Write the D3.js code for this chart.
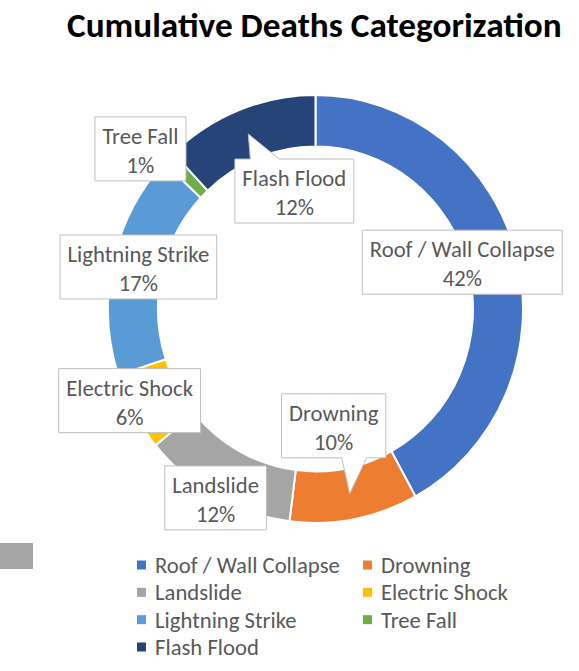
<!DOCTYPE html>
<html>
<head>
<meta charset="utf-8">
<script src="https://cdn.jsdelivr.net/npm/d3@7"></script>
<style>
  body { margin: 0; background: #fff; }
  svg { display: block; }
</style>
</head>
<body>
<div id="chart"></div>
<script>
// data
const categories = ["Roof / Wall Collapse", "Drowning", "Landslide", "Electric Shock", "Lightning Strike", "Tree Fall", "Flash Flood"];
const shares = [42, 10, 12, 6, 17, 1, 12];
const colors = ["#4472C4", "#ED7D31", "#A5A5A5", "#FFC000", "#5B9BD5", "#70AD47", "#264478"];

// nudges for label boxes, relative to the slice centroid (callouts keep the tip on the centroid)
const labelNudge = [
    { dx: -30, dy: 0 },
    { dx: -16, dy: -68, callout: "bottom", ptr: [-8, 17] },
    { dx: -12, dy: 24 },
    { dx: -26, dy: 1 },
    { dx: 1, dy: -1 },
    { dx: -46, dy: -27 },
    { dx: 46, dy: 57, callout: "top", ptr: [2, 31] },
];

const width = 579, height = 671;
const center = { x: 315.5, y: 309 };
const outerR = 207.5, innerR = 157.5, yStretch = 1.031;
const font = "Carlito, Lato, 'Open Sans', sans-serif";
const textColor = "#595959";

const svg = d3.select("#chart").append("svg")
    .attr("width", width)
    .attr("height", height);

// scale a text's font-size so that it spans the target width
function fitFont(textSel, target, base) {
    textSel.style("font-size", base + "px");
    const w = textSel.node().getComputedTextLength();
    const size = base * target / w;
    textSel.style("font-size", size + "px");
    return size;
}

// title
const title = svg.append("text")
    .attr("x", 67)
    .attr("y", 37)
    .style("font-family", font)
    .style("font-weight", "bold")
    .style("fill", "#000")
    .text("Cumulative Deaths Categorization");
fitFont(title, 495, 30);

// measure label font size against the longest label
const probe = svg.append("text").style("font-family", font).text(categories[0]);
const labelSize = fitFont(probe, 185, 20);
probe.remove();

// donut
const pie = d3.pie().sort(null).value((d) => d)(shares);
const arc = d3.arc().innerRadius(innerR).outerRadius(outerR);

svg.append("g")
    .attr("transform", `translate(${center.x},${center.y}) scale(1,${yStretch})`)
    .selectAll("path")
    .data(pie)
    .join("path")
    .attr("d", arc)
    .attr("fill", (d, i) => colors[i])
    .attr("stroke", "#fff")
    .attr("stroke-width", 2)
    .attr("vector-effect", "non-scaling-stroke");

// data labels
const labels = svg.append("g")
    .style("font-family", font)
    .style("font-size", labelSize + "px")
    .style("fill", textColor);

pie.forEach((d, i) => {
    const c = arc.centroid(d);
    const tip = { x: center.x + c[0], y: center.y + c[1] * yStretch };
    const nudge = labelNudge[i];
    const bx = tip.x + nudge.dx, by = tip.y + nudge.dy;
    const g = labels.append("g");

    const t1 = g.append("text")
        .attr("x", bx).attr("y", by - 13)
        .attr("text-anchor", "middle")
        .attr("dominant-baseline", "central")
        .text(categories[i]);
    const t2 = g.append("text")
        .attr("x", bx).attr("y", by + 16)
        .attr("text-anchor", "middle")
        .attr("dominant-baseline", "central")
        .text(d3.format(".0%")(shares[i] / d3.sum(shares)));

    const w = Math.max(t1.node().getComputedTextLength(), t2.node().getComputedTextLength()) + 15;
    const h = 64;
    const x0 = bx - w / 2, x1 = bx + w / 2, y0 = by - h / 2, y1 = by + h / 2;

    let p;
    if (nudge.callout === "top") {
        const a = tip.x + nudge.ptr[0], b = tip.x + nudge.ptr[1];
        p = `M${x0},${y0}L${a},${y0}L${tip.x},${tip.y}L${b},${y0}L${x1},${y0}L${x1},${y1}L${x0},${y1}Z`;
    } else if (nudge.callout === "bottom") {
        const a = tip.x + nudge.ptr[0], b = tip.x + nudge.ptr[1];
        p = `M${x0},${y0}L${x1},${y0}L${x1},${y1}L${b},${y1}L${tip.x},${tip.y}L${a},${y1}L${x0},${y1}Z`;
    } else {
        p = `M${x0},${y0}L${x1},${y0}L${x1},${y1}L${x0},${y1}Z`;
    }
    g.insert("path", "text")
        .attr("d", p)
        .attr("fill", "#fff")
        .attr("stroke", "#BFBFBF")
        .attr("stroke-width", 1);
});

// stray grey swatch at the left edge
svg.append("rect")
    .attr("x", 0).attr("y", 543)
    .attr("width", 33).attr("height", 26)
    .attr("fill", "#A5A5A5");

// legend
const colX = d3.scaleOrdinal().domain([0, 1]).range([137, 363]);
const rowY = d3.scaleLinear().domain([0, 3]).range([565, 647]);

const legend = svg.append("g")
    .style("font-family", font)
    .style("font-size", labelSize + "px")
    .style("fill", textColor)
    .selectAll("g")
    .data(categories)
    .join("g")
    .attr("transform", (d, i) => `translate(${colX(i % 2)},${rowY(Math.floor(i / 2))})`);

legend.append("rect")
    .attr("x", 0).attr("y", -4.5)
    .attr("width", 9).attr("height", 9)
    .attr("fill", (d, i) => colors[i]);

legend.append("text")
    .attr("x", 18)
    .attr("dominant-baseline", "central")
    .text((d) => d);
</script>
</body>
</html>
